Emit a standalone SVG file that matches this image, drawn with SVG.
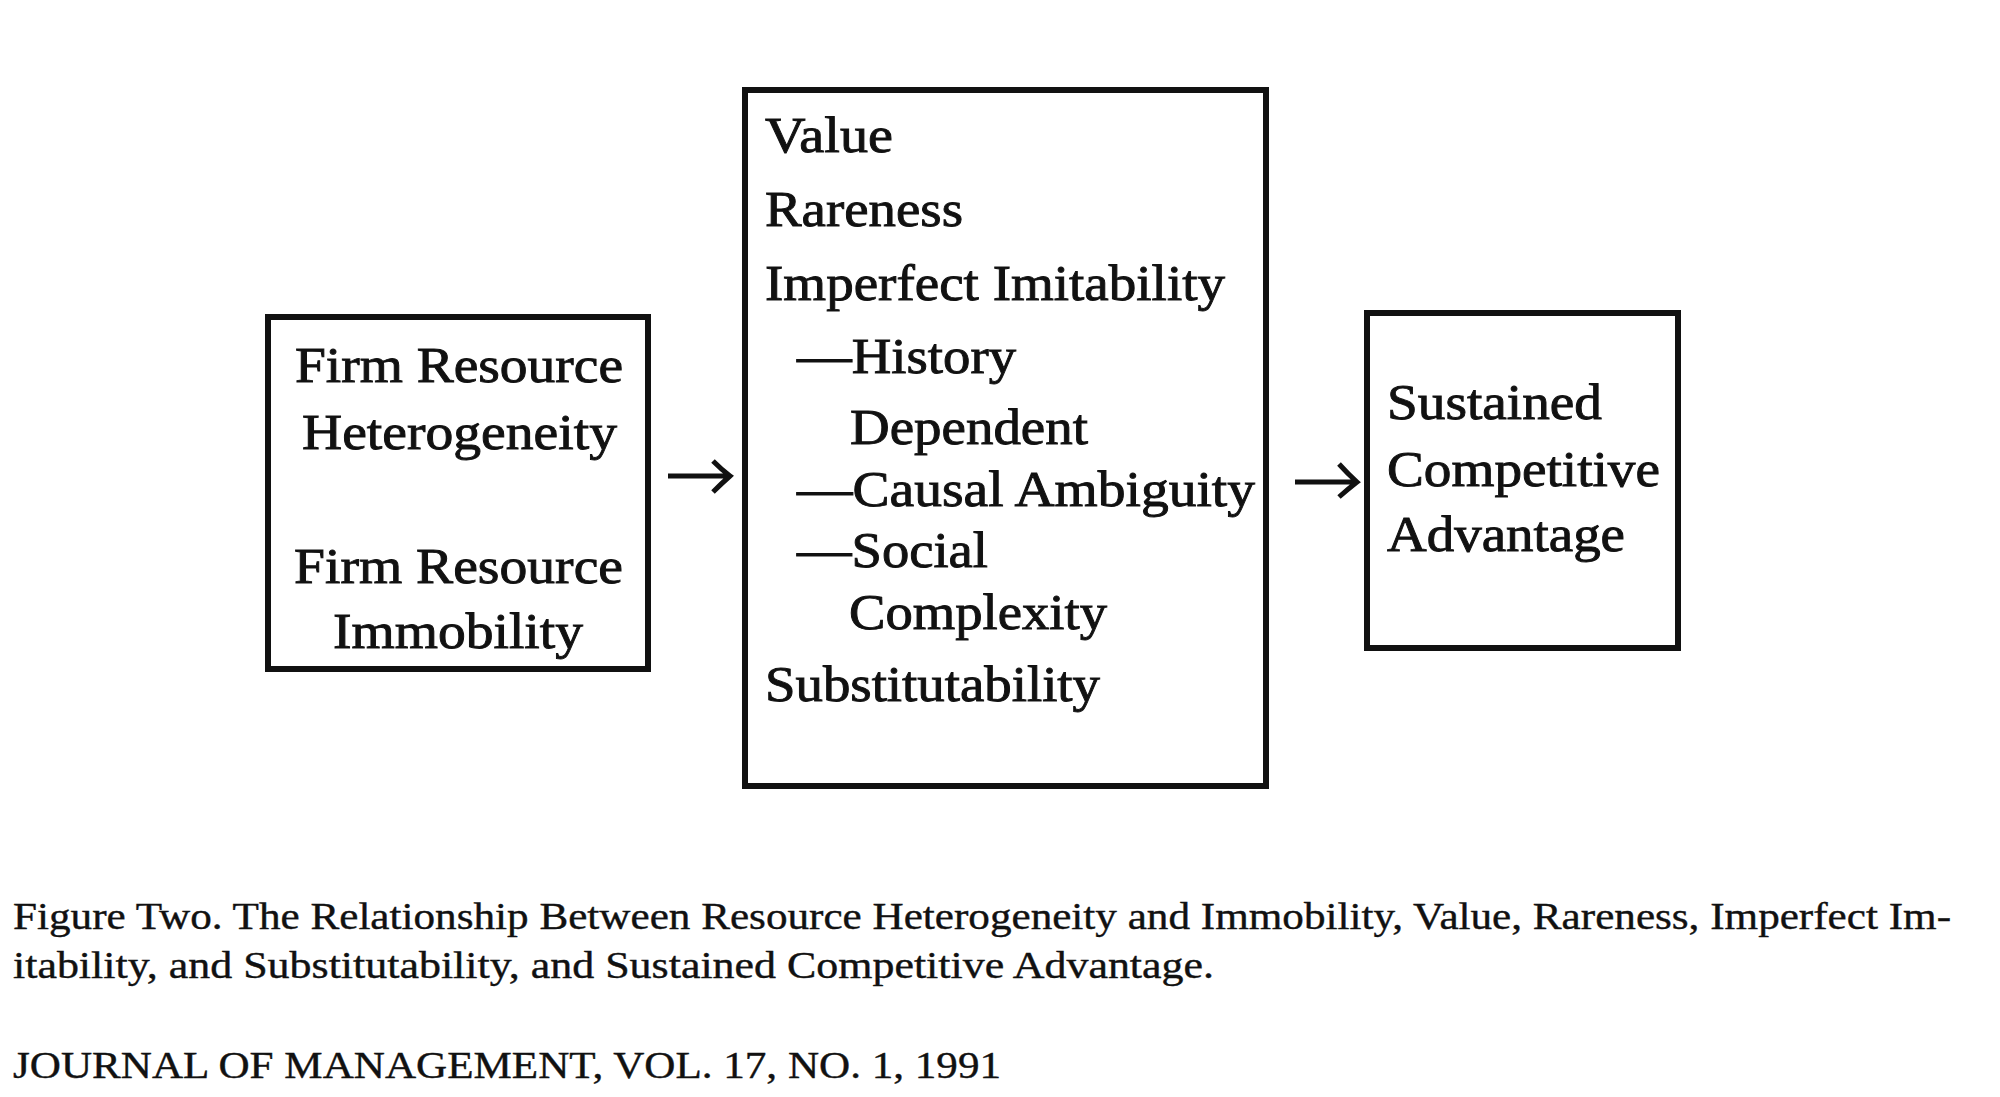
<svg xmlns="http://www.w3.org/2000/svg" width="2000" height="1097" viewBox="0 0 2000 1097">
<style>
.box{fill:none;stroke:#111;stroke-width:6}
.t{font-family:"Liberation Serif","Times New Roman",serif;font-size:50px;fill:#111;stroke:#111;stroke-width:0.9}
.cap{font-family:"Liberation Serif","Times New Roman",serif;font-size:38px;fill:#111;stroke:#111;stroke-width:0.4}
.arr{fill:none;stroke:#111;stroke-width:5;stroke-linecap:butt;stroke-linejoin:miter}
</style>
<rect x="0" y="0" width="2000" height="1097" fill="#fff"/>
<g id="node-heterogeneity">
<rect class="box" x="268" y="317" width="380" height="352"/>
<text class="t" x="295" y="382" textLength="328" lengthAdjust="spacingAndGlyphs">Firm Resource</text>
<text class="t" x="302" y="449" textLength="315" lengthAdjust="spacingAndGlyphs">Heterogeneity</text>
<text class="t" x="294" y="583" textLength="329" lengthAdjust="spacingAndGlyphs">Firm Resource</text>
<text class="t" x="333" y="648" textLength="250" lengthAdjust="spacingAndGlyphs">Immobility</text>
</g>
<g id="node-attributes">
<rect class="box" x="745" y="90" width="521" height="696"/>
<text class="t" x="765" y="152" textLength="128" lengthAdjust="spacingAndGlyphs">Value</text>
<text class="t" x="765" y="226" textLength="198" lengthAdjust="spacingAndGlyphs">Rareness</text>
<text class="t" x="765" y="300" textLength="460" lengthAdjust="spacingAndGlyphs">Imperfect Imitability</text>
<text class="t" x="797" y="373" textLength="219" lengthAdjust="spacingAndGlyphs">—History</text>
<text class="t" x="850" y="444" textLength="238" lengthAdjust="spacingAndGlyphs">Dependent</text>
<text class="t" x="797" y="506" textLength="458" lengthAdjust="spacingAndGlyphs">—Causal Ambiguity</text>
<text class="t" x="797" y="567" textLength="191" lengthAdjust="spacingAndGlyphs">—Social</text>
<text class="t" x="849" y="629" textLength="258" lengthAdjust="spacingAndGlyphs">Complexity</text>
<text class="t" x="765" y="701" textLength="335" lengthAdjust="spacingAndGlyphs">Substitutability</text>
</g>
<g id="node-advantage">
<rect class="box" x="1367" y="313" width="311" height="335"/>
<text class="t" x="1387" y="419" textLength="215" lengthAdjust="spacingAndGlyphs">Sustained</text>
<text class="t" x="1387" y="486" textLength="273" lengthAdjust="spacingAndGlyphs">Competitive</text>
<text class="t" x="1387" y="551" textLength="238" lengthAdjust="spacingAndGlyphs">Advantage</text>
</g>
<g id="connectors">
<path class="arr" d="M668 476 H728 M713 461 Q722 470 730 476 Q722 483 713 492"/>
<path class="arr" d="M1295 482 H1355 M1339 464 Q1348 474 1357 482 Q1348 489 1339 497"/>
</g>
<g id="caption">
<text class="cap" x="13" y="929" textLength="1938" lengthAdjust="spacingAndGlyphs">Figure Two. The Relationship Between Resource Heterogeneity and Immobility, Value, Rareness, Imperfect Im-</text>
<text class="cap" x="13" y="978" textLength="1201" lengthAdjust="spacingAndGlyphs">itability, and Substitutability, and Sustained Competitive Advantage.</text>
<text class="cap" x="13" y="1078" textLength="988" lengthAdjust="spacingAndGlyphs">JOURNAL OF MANAGEMENT, VOL. 17, NO. 1, 1991</text>
</g>
</svg>
